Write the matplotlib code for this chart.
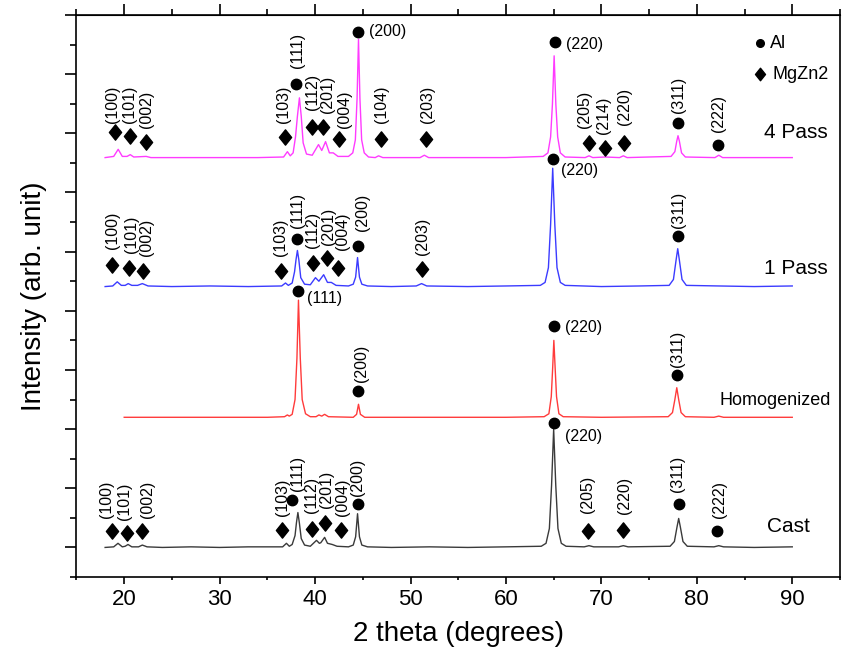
import matplotlib
matplotlib.use('Agg')
import matplotlib.pyplot as plt
from matplotlib.path import Path

plt.rcParams['font.family'] = ['Liberation Sans', 'DejaVu Sans']

# XRD patterns: (2 theta, intensity above own baseline)
cast_pts = [(18.0, 0.00), (18.9, 0.01), (19.35, 0.07), (19.8, 0.01), (20.1, 0.02), (20.4, 0.05),
            (20.8, 0.01), (21.5, 0.01), (21.9, 0.04), (22.4, 0.01), (24.0, 0.00), (27.0, 0.01),
            (30.0, 0.00), (33.0, 0.01), (36.6, 0.01), (37.0, 0.07), (37.3, 0.02), (37.6, 0.05),
            (37.9, 0.20), (38.05, 0.42), (38.2, 0.59), (38.35, 0.42), (38.55, 0.15), (38.9, 0.04),
            (39.5, 0.02), (40.15, 0.12), (40.45, 0.07), (40.6, 0.08), (41.0, 0.17), (41.3, 0.07),
            (41.8, 0.05), (42.3, 0.02), (43.5, 0.01), (44.0, 0.04), (44.25, 0.18), (44.45, 0.57),
            (44.65, 0.18), (44.9, 0.04), (45.5, 0.01), (48.0, 0.00), (52.0, 0.01), (56.0, 0.00),
            (60.0, 0.01), (63.7, 0.02), (64.2, 0.07), (64.55, 0.32), (64.78, 1.05), (65.0, 2.00),
            (65.22, 1.05), (65.45, 0.32), (65.8, 0.07), (66.3, 0.02), (68.2, 0.01), (68.7, 0.03),
            (69.2, 0.01), (71.8, 0.01), (72.3, 0.03), (72.8, 0.01), (77.2, 0.02), (77.65, 0.10),
            (77.93, 0.35), (78.1, 0.49), (78.27, 0.35), (78.55, 0.10), (79.0, 0.02), (81.8, 0.01),
            (82.3, 0.03), (82.8, 0.01), (86.0, 0.00), (90.0, 0.01)]

homog_pts = [(20.0, 0.00), (25.0, 0.00), (30.0, 0.00), (35.0, 0.00), (36.8, 0.01), (37.1, 0.04),
             (37.3, 0.02), (37.6, 0.05), (37.9, 0.30), (38.1, 1.00), (38.26, 1.98), (38.45, 1.00),
             (38.65, 0.30), (39.0, 0.06), (39.5, 0.01), (40.1, 0.01), (40.4, 0.04), (40.7, 0.02),
             (41.0, 0.05), (41.4, 0.01), (44.0, 0.00), (44.35, 0.05), (44.55, 0.22), (44.75, 0.05),
             (45.2, 0.00), (50.0, 0.00), (55.0, 0.00), (60.0, 0.00), (64.0, 0.01), (64.5, 0.06),
             (64.75, 0.35), (64.9, 0.85), (65.02, 1.30), (65.15, 0.85), (65.3, 0.35), (65.55, 0.06),
             (66.0, 0.01), (70.0, 0.00), (77.0, 0.01), (77.45, 0.08), (77.7, 0.30), (77.9, 0.50),
             (78.1, 0.30), (78.35, 0.08), (78.8, 0.01), (81.8, 0.00), (82.3, 0.02), (82.8, 0.00),
             (90.0, 0.00)]

pass1_pts = [(18.0, 0.00), (18.8, 0.01), (19.27, 0.08), (19.7, 0.02), (20.1, 0.02), (20.42, 0.05),
             (20.8, 0.02), (21.4, 0.02), (21.9, 0.05), (22.5, 0.01), (25.0, 0.00), (29.0, 0.01),
             (33.0, 0.00), (36.5, 0.01), (36.9, 0.06), (37.2, 0.02), (37.6, 0.06), (37.85, 0.25),
             (38.0, 0.45), (38.15, 0.61), (38.3, 0.45), (38.5, 0.15), (38.9, 0.04), (39.5, 0.03),
             (40.04, 0.15), (40.4, 0.09), (40.9, 0.20), (41.3, 0.07), (41.7, 0.07), (42.2, 0.02),
             (43.5, 0.01), (44.0, 0.04), (44.25, 0.16), (44.45, 0.49), (44.65, 0.16), (44.9, 0.04),
             (45.5, 0.01), (48.0, 0.00), (50.6, 0.01), (51.16, 0.05), (51.7, 0.01), (56.0, 0.00),
             (60.0, 0.01), (63.6, 0.02), (64.1, 0.07), (64.45, 0.32), (64.68, 1.05), (64.9, 2.00),
             (65.12, 1.05), (65.35, 0.32), (65.7, 0.07), (66.2, 0.02), (70.0, 0.00), (74.0, 0.01),
             (77.1, 0.02), (77.55, 0.12), (77.83, 0.45), (78.0, 0.64), (78.17, 0.45), (78.45, 0.12),
             (78.9, 0.02), (82.3, 0.01), (86.0, 0.00), (90.0, 0.01)]

pass4_pts = [(18.0, 0.00), (18.9, 0.02), (19.37, 0.14), (19.8, 0.02), (20.3, 0.02), (20.63, 0.05),
             (21.0, 0.01), (22.3, 0.02), (22.8, 0.00), (26.0, 0.00), (30.0, 0.00), (34.0, 0.00),
             (36.7, 0.01), (37.1, 0.10), (37.4, 0.03), (37.7, 0.08), (37.95, 0.35), (38.15, 0.70),
             (38.36, 1.01), (38.55, 0.70), (38.75, 0.25), (39.1, 0.06), (39.7, 0.04), (40.36, 0.22),
             (40.7, 0.12), (41.1, 0.27), (41.5, 0.08), (41.9, 0.08), (42.4, 0.02), (43.5, 0.02),
             (43.95, 0.08), (44.22, 0.30), (44.4, 1.00), (44.55, 2.00), (44.7, 1.00), (44.88, 0.30),
             (45.15, 0.08), (45.6, 0.01), (46.3, 0.00), (46.65, 0.03), (47.1, 0.00), (51.0, 0.00),
             (51.45, 0.04), (51.9, 0.00), (56.0, 0.00), (60.0, 0.00), (63.9, 0.02), (64.4, 0.08),
             (64.68, 0.35), (64.87, 0.90), (65.05, 1.72), (65.23, 0.90), (65.42, 0.35), (65.7, 0.08),
             (66.2, 0.01), (68.3, 0.00), (68.7, 0.03), (69.1, 0.00), (70.4, 0.01), (71.9, 0.00),
             (72.3, 0.03), (72.7, 0.00), (77.3, 0.02), (77.7, 0.10), (77.9, 0.28), (78.03, 0.37),
             (78.17, 0.28), (78.4, 0.08), (78.8, 0.01), (81.9, 0.00), (82.3, 0.04), (82.7, 0.00),
             (86.0, 0.00), (90.0, 0.00)]

pattern_names = ['Cast', 'Homogenized', '1 Pass', '4 Pass']
baselines = [0.0, 2.2, 4.41, 6.59]
colors = ['#3a3a3a', '#ff3b3b', '#3b3bff', '#ff3bff']

# peak labels: (hkl, phase, 2theta, marker height, label dx, dy in px, rotated)
cast_ann = [('(100)', 'M', 18.74, 0.27, -6, 13, True), ('(101)', 'M', 20.31, 0.24, -3, 13, True),
            ('(002)', 'M', 21.89, 0.27, 5, 13, True), ('(103)', 'M', 36.58, 0.30, 0, 14, True),
            ('(111)', 'A', 37.63, 0.81, 5, 9, True), ('(112)', 'M', 39.73, 0.32, -1, 16, True),
            ('(201)', 'M', 41.09, 0.42, 1, 15, True), ('(004)', 'M', 42.67, 0.30, 2, 14, True),
            ('(200)', 'A', 44.45, 0.74, 0, 8, True), ('(220)', 'A', 65.02, 2.11, 11, -14, False),
            ('(205)', 'M', 68.58, 0.27, 0, 18, True), ('(220)', 'M', 72.26, 0.30, 2, 16, True),
            ('(311)', 'A', 78.13, 0.73, -1, 12, True), ('(222)', 'A', 82.12, 0.27, 2, 13, True)]

homog_ann = [('(111)', 'A', 38.26, 4.33, 9, -7, False), ('(200)', 'A', 44.55, 2.64, 3, 9, True),
             ('(220)', 'A', 65.02, 3.74, 11, -1, False), ('(311)', 'A', 77.92, 2.92, 1, 8, True)]

pass1_ann = [('(100)', 'M', 18.74, 4.78, 0, 16, True), ('(101)', 'M', 20.52, 4.73, 2, 15, True),
             ('(002)', 'M', 21.99, 4.68, 3, 15, True), ('(103)', 'M', 36.47, 4.68, -1, 15, True),
             ('(111)', 'A', 38.15, 5.21, 0, 11, True), ('(112)', 'M', 39.83, 4.80, -1, 15, True),
             ('(201)', 'M', 41.30, 4.89, 1, 13, True), ('(004)', 'M', 42.35, 4.72, 5, 18, True),
             ('(200)', 'A', 44.45, 5.10, 5, 15, True), ('(203)', 'M', 51.16, 4.70, 1, 14, True),
             ('(220)', 'A', 64.91, 6.57, 8, -12, False), ('(311)', 'A', 78.03, 5.27, 0, 8, True)]

pass4_ann = [('(100)', 'M', 19.06, 7.03, -3, 9, True), ('(101)', 'M', 20.63, 6.95, -1, 13, True),
             ('(002)', 'M', 22.31, 6.86, 0, 14, True), ('(103)', 'M', 36.89, 6.93, -2, 14, True),
             ('(111)', 'A', 38.05, 7.84, 1, 16, True), ('(112)', 'M', 39.73, 7.10, 0, 17, True),
             ('(201)', 'M', 40.88, 7.10, 4, 14, True), ('(004)', 'M', 42.46, 6.91, 6, 11, True),
             ('(200)', 'A', 44.55, 8.72, 11, 0, False), ('(104)', 'M', 46.86, 6.90, 1, 16, True),
             ('(203)', 'M', 51.58, 6.90, 2, 16, True), ('(220)', 'A', 65.12, 8.54, 11, -2, False),
             ('(205)', 'M', 68.69, 6.83, -4, 15, True), ('(214)', 'M', 70.37, 6.76, -1, 14, True),
             ('(220)', 'M', 72.36, 6.83, 1, 18, True), ('(311)', 'A', 78.03, 7.17, 0, 10, True),
             ('(222)', 'A', 82.22, 6.80, 0, 13, True)]

diamond = Path([(0, 1), (0.8, 0), (0, -1), (-0.8, 0), (0, 1)],
               [Path.MOVETO, Path.LINETO, Path.LINETO, Path.LINETO, Path.CLOSEPOLY])


def draw_pattern(ax, pts, base, color):
    xs = [p[0] for p in pts]
    ys = [p[1] + base for p in pts]
    ax.plot(xs, ys, color=color, linewidth=1.0)


def draw_labels(ax, ann):
    for lab, phase, x, y, dx, dy, rot in ann:
        if phase == 'M':
            ax.plot(x, y, marker=diamond, ms=11, color='black', ls='none')
        else:
            ax.plot(x, y, marker='o', ms=7.5, color='black', ls='none')
        if rot:
            ax.annotate(lab, (x, y), xytext=(dx, dy), textcoords='offset pixels',
                        rotation=90, ha='center', va='bottom', fontsize=11.5)
        else:
            ax.annotate(lab, (x, y), xytext=(dx, dy), textcoords='offset pixels',
                        ha='left', va='center', fontsize=11.5)


fig = plt.figure(figsize=(8.47, 6.59), dpi=100)
ax = fig.add_axes([0.0903, 0.1244, 0.9014, 0.8528])

all_pts = [cast_pts, homog_pts, pass1_pts, pass4_pts]
for pts, base, col in zip(all_pts, baselines, colors):
    draw_pattern(ax, pts, base, col)

for ann in [cast_ann, homog_ann, pass1_ann, pass4_ann]:
    draw_labels(ax, ann)

# pattern names
ax.text(87.0, 7.01, '4 Pass', fontsize=15, va='center')
ax.text(87.0, 4.72, '1 Pass', fontsize=15, va='center')
ax.text(82.4, 2.48, 'Homogenized', fontsize=13, va='center')
ax.text(87.4, 0.36, 'Cast', fontsize=15, va='center')

# phase key
ax.plot(0.895, 0.950, marker='o', ms=5.5, color='black', transform=ax.transAxes)
ax.text(0.908, 0.950, 'Al', fontsize=13, va='center', transform=ax.transAxes)
ax.plot(0.895, 0.895, marker=diamond, ms=9, color='black', transform=ax.transAxes)
ax.text(0.912, 0.895, 'MgZn2', fontsize=13, va='center', transform=ax.transAxes)

ax.set_xlim(15, 95)
ax.set_ylim(-0.5, 9)
ax.set_xticks(range(20, 91, 10))
ax.set_xticks(range(15, 96, 5), minor=True)
ax.set_yticks(range(0, 10))
ax.set_yticks([i + 0.5 for i in range(-1, 9)], minor=True)
ax.set_yticklabels([])
ax.tick_params(axis='x', which='major', direction='out', length=5, width=1.2, labelsize=16)
ax.tick_params(axis='x', which='minor', direction='out', length=2.5, width=1.2)
ax.tick_params(axis='y', which='major', direction='out', length=8, width=1.2)
ax.tick_params(axis='y', which='minor', direction='out', length=4, width=1.2)
for s in ax.spines.values():
    s.set_linewidth(1.2)

top = ax.secondary_xaxis('top')
top.set_xticks(range(20, 91, 10))
top.set_xticks(range(15, 96, 5), minor=True)
top.set_xticklabels([])
top.tick_params(which='major', direction='out', length=8, width=1.2)
top.tick_params(which='minor', direction='out', length=4, width=1.2)

ax.set_xlabel('2 theta (degrees)', fontsize=20, labelpad=8)
ax.set_ylabel('Intensity (arb. unit)', fontsize=20, labelpad=10)

fig.savefig('out.png', dpi=100)
